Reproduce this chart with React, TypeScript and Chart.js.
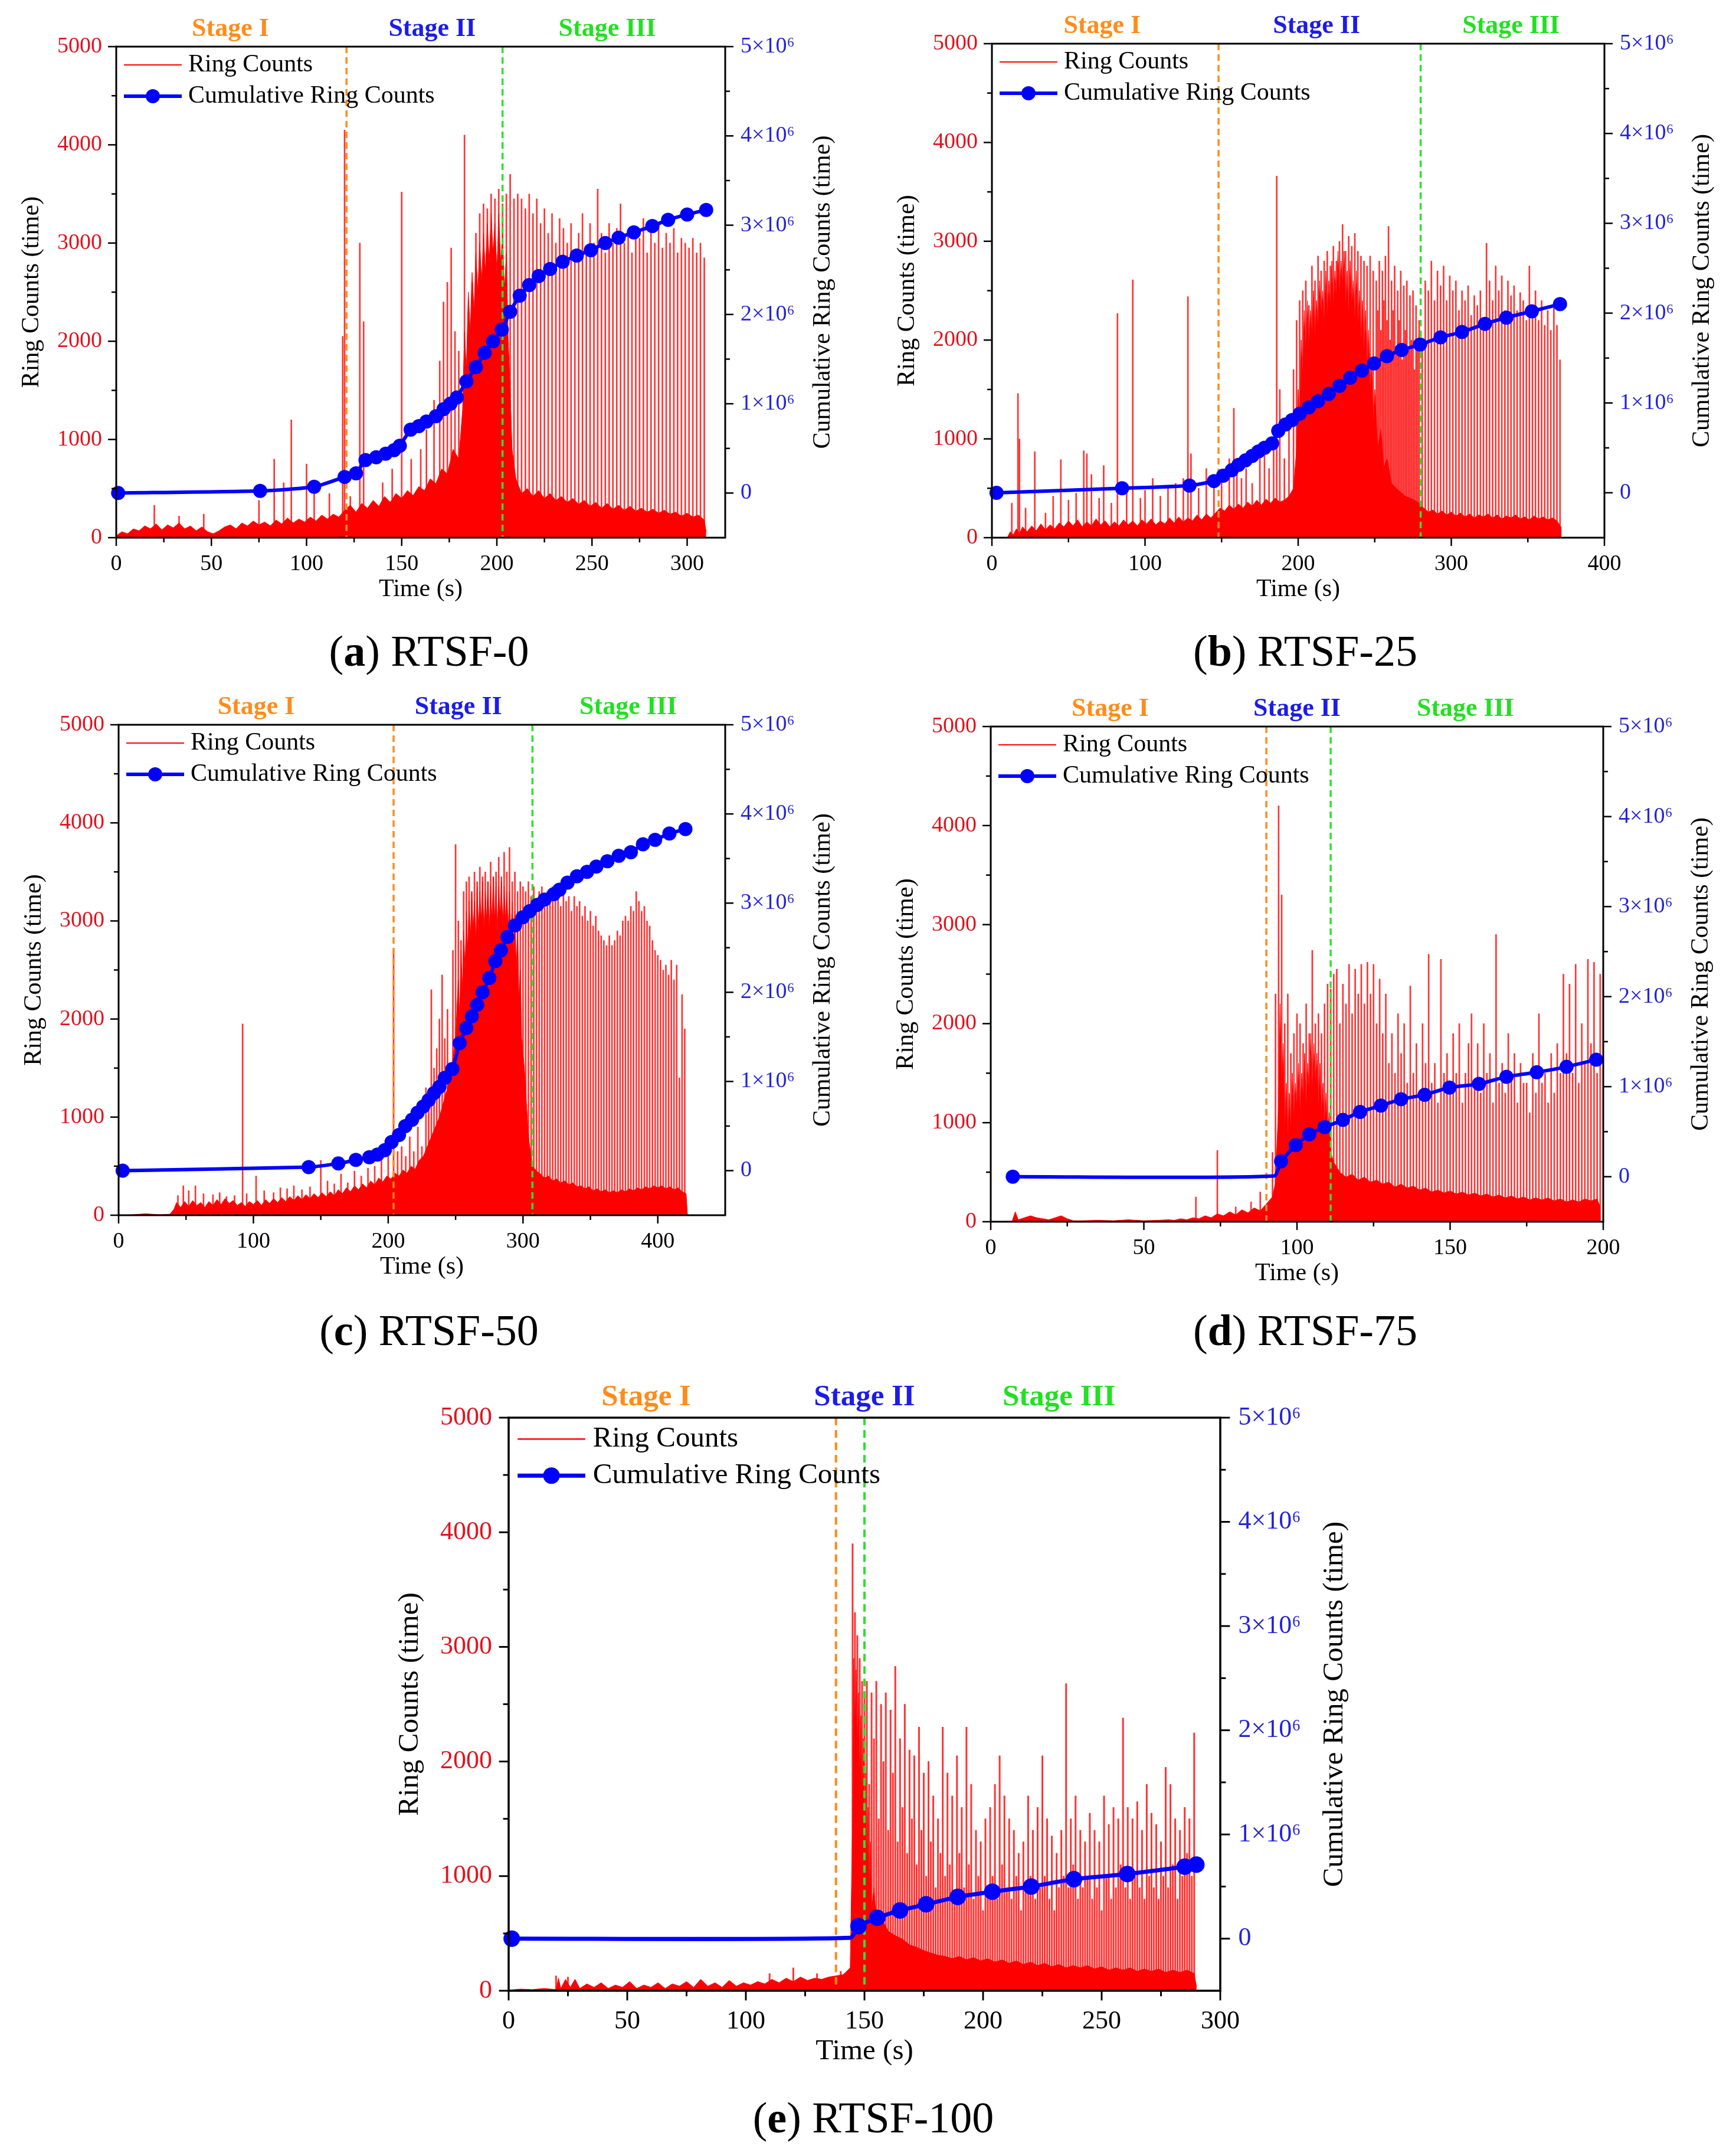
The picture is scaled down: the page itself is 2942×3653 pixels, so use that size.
import { useEffect, useRef } from "react"
import { Chart, registerables } from "chart.js"

Chart.register(...registerables)
Chart.defaults.font.family = "'Liberation Serif', 'Times New Roman', serif"

type Pt = [number, number]

// 共通の目盛り
const countTicks = [0, 1000, 2000, 3000, 4000, 5000]
const countMinor = [500, 1500, 2500, 3500, 4500]
const cumTicks = [0, 1e6, 2e6, 3e6, 4e6, 5e6]
const cumMinor = [5e5, 1.5e6, 2.5e6, 3.5e6, 4.5e6]
const stageNames = ["Stage I", "Stage II", "Stage III"]

// (a) RTSF-0
const baseA: Pt[] = [[0,20],[3,60],[6,40],[9,90],[12,70],[15,120],[18,90],[21,140],[24,80],[27,130],[30,100],[33,150],[36,90],[39,120],[42,70],[45,110],[48,60],[51,40],[54,70],[57,110],[60,130],[63,90],[66,150],[69,120],[72,170],[75,130],[78,160],[81,120],[84,180],[87,140],[90,200],[93,150],[96,190],[99,160],[102,210],[105,170],[108,230],[111,190],[114,240],[117,210],[120,280],[123,330],[126,260],[129,350],[132,300],[135,380],[138,320],[141,420],[144,360],[147,450],[150,400],[153,480],[156,430],[159,520],[162,480],[165,600],[168,550],[171,700],[174,650],[177,900],[180,800],[182,1300],[183,2100],[184,1700],[185,2500],[186,2100],[187,2700],[188,2300],[189,2900],[190,2500],[191,3000],[192,2600],[193,3100],[194,2700],[195,3200],[196,2800],[197,3300],[198,2900],[199,3200],[200,2700],[201,3300],[202,2800],[203,3100],[204,2500],[205,2900],[206,2000],[207,1500],[208,900],[210,600],[213,450],[216,500],[219,420],[222,480],[225,400],[228,450],[231,380],[234,420],[237,360],[240,400],[243,340],[246,380],[249,320],[252,360],[255,300],[258,350],[261,290],[264,330],[267,280],[270,320],[273,270],[276,300],[279,260],[282,290],[285,250],[288,280],[291,240],[294,260],[297,220],[300,250],[303,210],[306,230],[309,180],[310,60]]
const spikesA: Pt[] = [[20,330],[33,220],[46,240],[75,380],[83,800],[88,560],[92,1200],[100,750],[104,560],[112,450],[119,2050],[120,4150],[123,420],[128,3000],[130,2200],[140,560],[145,700],[150,3520],[155,800],[160,900],[163,1100],[167,1400],[170,1800],[172,2400],[174,2600],[176,2950],[178,2100],[180,1900],[183,4100],[185,2300],[187,2600],[189,3100],[191,3300],[193,3400],[195,3350],[197,3500],[199,3450],[201,3550],[203,3400],[205,3500],[207,3700],[209,3450],[211,3500],[213,3450],[215,3350],[217,3500],[219,3300],[221,3450],[223,3200],[225,3350],[227,3100],[229,3300],[231,3000],[233,3250],[235,3150],[237,3000],[239,3200],[241,2900],[243,3100],[245,3300],[247,2950],[249,3200],[251,3000],[253,3550],[255,3100],[257,2900],[259,3200],[261,3000],[263,3150],[265,3400],[267,3000],[269,3100],[271,2900],[273,3150],[275,3050],[277,3250],[279,2900],[281,3100],[283,3000],[285,3200],[287,2950],[289,3100],[291,3000],[293,3150],[295,2900],[297,3050],[299,3000],[301,2950],[303,3050],[305,2900],[307,3000],[309,2850]]
const cumA: Pt[] = [[1,0],[75.6,24000],[104,70000],[120,180000],[126,220000],[131,370000],[136.6,400000],[141.6,440000],[146,480000],[149,530000],[154.7,710000],[159,750000],[163,800000],[168,860000],[172,940000],[175.6,1000000],[179,1070000],[184,1250000],[189,1410000],[193.6,1570000],[198,1700000],[202.6,1830000],[207,2030000],[212,2210000],[217,2330000],[222,2430000],[228,2510000],[234.6,2590000],[242,2660000],[249.4,2720000],[257,2800000],[264,2860000],[272,2920000],[281.7,2990000],[290,3060000],[300,3120000],[310,3170000]]
const stagesA = [121, 203]
const stageLabelXA = [60, 166, 258]
const xTicksA = [0, 50, 100, 150, 200, 250, 300]
const xMinorA = [25, 75, 125, 175, 225, 275]

// (b) RTSF-25
const baseB: Pt[] = [[10,0],[12,60],[14,30],[16,90],[18,40],[20,110],[23,60],[26,120],[29,70],[32,140],[35,80],[38,130],[41,90],[44,150],[47,110],[50,170],[53,120],[56,180],[59,110],[62,160],[65,120],[68,190],[71,130],[74,170],[77,110],[80,160],[83,120],[86,180],[89,130],[92,170],[95,120],[98,180],[101,140],[104,190],[107,130],[110,170],[113,140],[116,200],[119,150],[122,210],[125,160],[128,200],[131,170],[134,230],[137,180],[140,240],[143,200],[146,250],[149,300],[152,270],[155,330],[158,290],[161,340],[164,300],[167,360],[170,320],[173,380],[176,330],[179,390],[182,350],[185,400],[188,360],[191,380],[194,420],[197,500],[199,900],[200,1500],[201,1100],[202,2000],[203,1600],[204,2300],[205,1800],[206,2400],[207,1900],[208,2300],[209,2000],[210,2500],[211,2000],[212,2400],[213,2100],[214,2600],[215,2200],[216,2500],[217,2100],[218,2700],[219,2200],[220,2600],[221,2300],[222,2800],[223,2300],[224,2700],[225,2400],[226,2900],[227,2400],[228,2800],[229,2500],[230,2900],[231,2300],[232,2700],[233,2200],[234,2800],[235,2300],[236,2600],[237,2100],[238,2700],[239,2100],[240,2500],[241,1900],[242,2400],[243,1800],[244,2300],[245,1600],[246,2100],[247,1400],[248,1800],[249,1100],[250,1500],[252,900],[254,1100],[256,700],[258,800],[261,550],[264,500],[267,460],[270,420],[273,400],[276,380],[279,350],[282,300],[285,260],[288,280],[291,240],[294,270],[297,230],[300,260],[303,220],[306,250],[309,210],[312,240],[315,200],[318,230],[321,210],[324,240],[327,200],[330,230],[333,190],[336,220],[339,200],[342,230],[345,190],[348,210],[351,180],[354,220],[357,190],[360,210],[363,180],[366,200],[369,170],[372,100]]
const spikesB: Pt[] = [[13,350],[17,1460],[18,1000],[22,300],[28,870],[35,250],[40,420],[45,790],[50,380],[55,450],[60,880],[62,850],[65,640],[70,400],[73,730],[78,350],[82,2270],[88,500],[92,2610],[97,400],[100,480],[105,600],[110,420],[115,500],[120,550],[125,600],[128,2440],[130,850],[135,500],[140,700],[145,600],[150,650],[155,800],[158,1310],[160,750],[163,600],[166,700],[170,550],[175,800],[178,900],[181,700],[184,1000],[186,3660],[188,1500],[191,800],[194,1200],[197,1700],[199,2200],[201,2400],[203,2500],[205,2600],[207,2350],[209,2750],[211,2600],[213,2850],[215,2700],[217,2800],[219,2900],[221,2750],[223,2950],[225,2800],[227,3000],[229,3170],[231,2900],[233,3050],[235,2950],[237,3080],[239,2900],[241,2850],[243,2800],[245,2750],[247,2850],[249,2700],[251,2600],[252,2300],[253,2800],[254,2100],[255,2700],[256,2400],[257,2850],[258,2200],[259,3150],[260,2000],[261,2600],[262,2300],[263,2750],[264,1900],[265,2500],[266,2200],[267,2700],[268,1800],[269,2550],[270,2100],[271,2600],[272,1900],[273,2450],[274,2000],[275,2500],[276,1700],[277,2350],[278,1900],[279,2200],[281,2000],[283,2600],[285,2500],[287,2800],[289,2400],[291,2700],[293,2550],[295,2750],[297,2400],[299,2650],[301,2500],[303,2600],[305,2300],[307,2500],[309,2400],[311,2550],[313,2250],[315,2450],[317,2350],[319,2500],[321,2200],[323,2980],[325,2600],[327,2400],[329,2750],[331,2500],[333,2650],[335,2300],[337,2600],[339,2450],[341,2550],[343,2300],[345,2480],[347,2400],[349,2200],[351,2750],[353,2350],[355,2500],[357,2200],[359,2400],[361,2150],[363,2300],[365,2100],[367,2350],[369,2150],[371,1800]]
const cumB: Pt[] = [[3,0],[85,50000],[129,80000],[145,130000],[151,190000],[156.6,250000],[161,310000],[165.6,360000],[170,410000],[174,460000],[178,500000],[183,550000],[187,690000],[191.7,760000],[196,810000],[201,880000],[207,950000],[213,1020000],[220,1100000],[227,1190000],[234,1280000],[241.6,1360000],[249.5,1440000],[258,1520000],[267.6,1590000],[279.6,1650000],[293,1730000],[307,1790000],[322,1880000],[336,1950000],[352.6,2020000],[371,2100000]]
const stagesB = [148, 280]
const stageLabelXB = [72, 212, 339]
const xTicksB = [0, 100, 200, 300, 400]
const xMinorB = [50, 150, 250, 350]

// (c) RTSF-50
const baseC: Pt[] = [[0,0],[10,5],[20,15],[30,5],[38,10],[41,60],[43,130],[46,80],[49,140],[52,90],[55,150],[58,100],[61,130],[64,80],[67,140],[70,100],[73,160],[76,110],[79,170],[82,120],[85,150],[88,100],[91,130],[94,90],[97,140],[100,110],[103,150],[106,100],[109,160],[112,120],[115,170],[118,130],[121,180],[124,140],[127,190],[130,150],[133,200],[136,160],[139,210],[142,170],[145,220],[148,180],[151,230],[154,190],[157,240],[160,200],[163,260],[166,220],[169,280],[172,240],[175,300],[178,260],[181,320],[184,280],[187,350],[190,310],[193,380],[196,340],[199,400],[202,370],[205,430],[208,400],[211,460],[214,430],[217,500],[220,470],[223,560],[226,600],[229,700],[232,800],[235,900],[238,1000],[241,1150],[244,1300],[247,1500],[250,1800],[252,2400],[253,2000],[254,2700],[255,2300],[256,2900],[257,2500],[258,3100],[259,2700],[260,3200],[261,2800],[262,3300],[263,2900],[264,3200],[265,2800],[266,3350],[267,2900],[268,3300],[269,3000],[270,3400],[271,2900],[272,3300],[273,3000],[274,3400],[275,2900],[276,3350],[277,3000],[278,3450],[279,3000],[280,3400],[281,2900],[282,3350],[283,3050],[284,3400],[285,2950],[286,3350],[287,3000],[288,3300],[289,2900],[290,3300],[291,2800],[292,3200],[293,2700],[294,3100],[295,2500],[296,2900],[297,2200],[298,2500],[299,1800],[301,1500],[304,800],[307,500],[310,450],[313,420],[316,380],[319,400],[322,350],[325,370],[328,330],[331,350],[334,310],[337,330],[340,290],[343,300],[346,270],[349,290],[352,250],[355,270],[358,240],[361,260],[364,230],[367,250],[370,230],[373,260],[376,240],[379,270],[382,250],[385,280],[388,260],[391,290],[394,270],[397,300],[400,280],[403,300],[406,270],[409,290],[412,260],[415,280],[418,240],[421,220],[422,0]]
const spikesC: Pt[] = [[44,200],[48,300],[52,250],[57,300],[63,220],[70,210],[75,230],[80,190],[86,200],[92,1950],[95,220],[102,400],[108,250],[115,230],[120,280],[125,270],[130,300],[136,260],[142,290],[150,560],[155,350],[160,320],[165,420],[170,330],[175,450],[180,400],[185,480],[190,500],[195,560],[200,600],[204,2700],[207,650],[210,700],[213,600],[216,800],[219,650],[222,900],[225,700],[228,1300],[230,1100],[232,2300],[234,1500],[236,1700],[238,2000],[240,2450],[242,1800],[244,2100],[246,1500],[248,2700],[250,3780],[252,3000],[254,2800],[256,3300],[258,3400],[260,3450],[262,3300],[264,3500],[266,3400],[268,3550],[270,3450],[272,3500],[274,3400],[276,3600],[278,3450],[280,3500],[282,3650],[284,3450],[286,3700],[288,3500],[290,3750],[292,3400],[294,3500],[296,3300],[298,3400],[300,3350],[302,3300],[304,3400],[306,3250],[308,3350],[310,3200],[312,3300],[314,3350],[316,3250],[318,3300],[320,3200],[322,3350],[324,3250],[326,3300],[328,3150],[330,3300],[332,3200],[334,3250],[336,3100],[338,3250],[340,3150],[342,3200],[344,3050],[346,3150],[348,3000],[350,3100],[352,2950],[354,3050],[356,2900],[358,2850],[360,2800],[362,2750],[364,2850],[366,2750],[368,2800],[370,2900],[372,2850],[374,3000],[376,3050],[378,3000],[380,3150],[382,3100],[384,3300],[386,3200],[388,3100],[390,3150],[392,3000],[394,2950],[396,2800],[398,2700],[400,2650],[402,2600],[404,2500],[406,2550],[408,2450],[410,2600],[412,2400],[414,2550],[416,1400],[418,2250],[420,1900]]
const cumC: Pt[] = [[3,0],[141,40000],[163,80000],[176,120000],[186,150000],[192,180000],[197.5,230000],[202.5,320000],[208,400000],[212.7,500000],[217.7,570000],[221.8,650000],[226,720000],[230,790000],[234,870000],[238,940000],[242,1040000],[247.6,1140000],[253,1430000],[258,1600000],[262,1730000],[266,1860000],[270,2000000],[275,2160000],[279.5,2350000],[283.6,2470000],[288.5,2620000],[294,2750000],[299.8,2840000],[305,2910000],[310.5,2980000],[316,3040000],[322.8,3100000],[327,3150000],[333,3230000],[340,3300000],[347.5,3350000],[354.4,3410000],[362.6,3470000],[371,3530000],[380,3570000],[389,3660000],[398,3710000],[408.6,3780000],[420.5,3830000]]
const stagesC = [204, 307]
const stageLabelXC = [102, 252, 378]
const xTicksC = [0, 100, 200, 300, 400]
const xMinorC = [50, 150, 250, 350]

// (d) RTSF-75
const baseD: Pt[] = [[0,0],[7,5],[8,100],[9,20],[11,40],[13,60],[15,40],[17,30],[19,20],[21,40],[23,60],[25,30],[27,10],[30,10],[35,15],[40,10],[45,20],[50,10],[55,15],[58,20],[60,15],[62,30],[64,20],[66,40],[68,30],[70,60],[72,40],[74,80],[76,60],[78,100],[80,70],[82,120],[84,90],[86,140],[88,110],[90,180],[92,250],[93,400],[94,1200],[94.5,2200],[95,1300],[95.5,1800],[96,900],[96.5,1400],[97,800],[97.5,1300],[98,900],[98.5,1500],[99,1000],[99.5,1400],[100,1100],[100.5,1600],[101,1000],[101.5,1500],[102,1200],[102.5,1700],[103,1100],[103.5,1600],[104,1300],[104.5,1900],[105,1200],[105.5,1800],[106,1300],[106.5,1700],[107,1100],[107.5,1600],[108,1000],[108.5,1400],[109,900],[109.5,1300],[110,800],[110.5,1100],[111,700],[112,600],[113,550],[114,500],[116,450],[118,480],[120,420],[122,450],[124,400],[126,420],[128,380],[130,400],[132,350],[134,380],[136,340],[138,360],[140,320],[142,340],[144,300],[146,320],[148,290],[150,310],[152,280],[154,300],[156,270],[158,290],[160,260],[162,280],[164,250],[166,270],[168,240],[170,260],[172,230],[174,250],[176,220],[178,240],[180,220],[182,240],[184,210],[186,230],[188,200],[190,220],[192,200],[194,230],[196,210],[198,230],[199,150]]
const spikesD: Pt[] = [[67,250],[74,720],[80,150],[85,200],[88,300],[92,700],[93,2300],[94,4200],[95,3300],[96,2000],[97,2300],[98,1700],[99,1900],[100,2100],[101,2000],[102,1800],[103,2200],[104,1900],[105,2740],[106,2000],[107,2100],[108,1900],[109,2200],[110,2400],[111,2350],[112,2500],[113,2550],[114,2000],[115,2400],[116,2200],[117,2600],[118,2100],[119,2550],[120,2300],[121,2600],[122,2200],[123,2620],[124,2300],[125,2600],[126,2000],[127,2450],[128,1900],[129,2300],[130,1600],[131,1900],[132,1500],[133,2100],[134,1700],[135,2000],[136,1400],[137,2380],[138,1500],[139,1800],[140,1300],[141,2000],[142,1600],[143,2700],[144,1400],[145,1600],[146,1200],[147,2650],[148,1500],[149,1700],[150,1300],[151,1900],[152,1500],[153,2000],[154,1200],[155,1500],[156,1800],[157,2100],[158,1400],[159,1800],[160,1300],[161,2000],[162,1500],[163,1700],[164,1200],[165,2900],[166,1400],[167,1600],[168,1300],[169,1900],[170,1500],[171,1700],[172,1200],[173,1600],[174,1400],[175,1400],[176,1100],[177,1700],[178,1300],[179,2100],[180,1400],[181,1500],[182,1200],[183,1700],[184,1300],[185,1800],[186,1500],[187,2500],[188,1700],[189,2400],[190,1500],[191,2600],[192,1400],[193,2000],[194,1600],[195,2650],[196,1800],[197,2620],[198,1500],[199,2500]]
const cumD: Pt[] = [[7.2,0],[94.8,170000],[99.6,350000],[104,470000],[109,550000],[115,630000],[120.6,720000],[127.4,790000],[134,860000],[141.7,910000],[149.8,990000],[159.4,1030000],[168.4,1110000],[178.3,1160000],[188,1220000],[197.7,1300000]]
const kneeD: Pt[] = [[92.5, 8000]]
const stagesD = [90, 111]
const stageLabelXD = [39, 100, 155]
const xTicksD = [0, 50, 100, 150, 200]
const xMinorD = [25, 75, 125, 175]

// (e) RTSF-100
const baseE: Pt[] = [[0,5],[5,15],[10,10],[15,20],[20,10],[21,110],[22,20],[24,100],[26,30],[28,100],[30,20],[33,60],[36,30],[39,70],[42,20],[45,50],[48,30],[51,80],[54,20],[57,50],[60,30],[63,70],[66,20],[69,60],[72,40],[75,80],[78,30],[81,100],[84,40],[87,70],[90,30],[93,90],[96,40],[99,70],[102,50],[105,80],[108,60],[111,100],[114,70],[117,110],[120,80],[123,120],[126,90],[129,110],[132,100],[135,120],[138,130],[141,140],[144,200],[145,1500],[145.5,2900],[146,2200],[146.5,2800],[147,2000],[147.5,2600],[148,1700],[148.5,2400],[149,1500],[149.5,2200],[150,1300],[150.5,1900],[151,1000],[151.5,1600],[152,800],[152.5,1300],[153,700],[154,900],[155,600],[156,700],[158,600],[160,520],[163,480],[166,450],[169,400],[172,380],[175,350],[178,330],[181,310],[184,300],[187,280],[190,300],[193,270],[196,290],[199,260],[202,280],[205,250],[208,270],[211,240],[214,260],[217,230],[220,250],[223,220],[226,240],[229,210],[232,230],[235,200],[238,220],[241,200],[244,220],[247,190],[250,210],[253,180],[256,200],[259,180],[262,200],[265,170],[268,190],[271,170],[274,190],[277,160],[280,180],[283,160],[286,180],[289,150],[290,30]]
const spikesE: Pt[] = [[20,130],[25,120],[110,150],[120,200],[130,150],[140,170],[145,3900],[146,3300],[147,3100],[148,2900],[149,2700],[150,2600],[151,2700],[152,1800],[153,2600],[154,2200],[155,2700],[156,1500],[157,2500],[158,2000],[159,2600],[160,1400],[161,2450],[162,1900],[163,2830],[164,1300],[165,2200],[166,1600],[167,2500],[168,1200],[169,2100],[170,1500],[171,2050],[172,1100],[173,2300],[174,1400],[175,1900],[176,1000],[177,2000],[178,1300],[179,1700],[180,900],[181,1500],[182,1200],[183,2300],[184,1000],[185,1900],[186,1100],[187,1700],[188,800],[189,2050],[190,1200],[191,1600],[192,900],[193,2300],[194,1100],[195,1800],[196,800],[197,1400],[198,1000],[199,1300],[200,700],[201,1500],[202,900],[203,1600],[204,1000],[205,1800],[206,800],[207,2050],[208,1100],[209,1700],[210,900],[211,1500],[212,800],[213,1400],[214,1000],[215,1200],[216,700],[217,1300],[218,900],[219,1700],[220,1000],[221,1400],[222,800],[223,1600],[224,900],[225,2050],[226,1000],[227,1500],[228,800],[229,1350],[230,700],[231,1200],[232,900],[233,1400],[234,1000],[235,2680],[236,900],[237,1500],[238,1100],[239,1700],[240,800],[241,1400],[242,900],[243,1300],[244,1000],[245,1550],[246,800],[247,1400],[248,900],[249,1300],[250,700],[251,1700],[252,1000],[253,1450],[254,800],[255,1600],[256,900],[257,1500],[258,1100],[259,2380],[260,900],[261,1600],[262,800],[263,1500],[264,1000],[265,1650],[266,900],[267,1400],[268,800],[269,1800],[270,1000],[271,1550],[272,900],[273,1450],[274,800],[275,1300],[276,1000],[277,1950],[278,900],[279,1800],[280,1100],[281,1500],[282,800],[283,1400],[284,1000],[285,1600],[286,1200],[287,1500],[288,1000],[289,2250]]
const cumE: Pt[] = [[1.3,0],[147.5,120000],[155.4,200000],[165,270000],[176,330000],[189.3,400000],[203.9,450000],[220.3,500000],[238.3,570000],[260.8,620000],[285,690000],[289.9,710000]]
const kneeE: Pt[] = [[144, 8000]]
const stagesE = [138, 150]
const stageLabelXE = [58, 150, 232]
const xTicksE = [0, 50, 100, 150, 200, 250, 300]
const xMinorE = [25, 75, 125, 175, 225, 275]

const RED = "#ff0000"
const BLUE = "#0000ff"
const ORANGE = "#ff8c1a"
const GREEN = "#2ee02e"
const stageColors = [ORANGE, "#1c1ce8", "#22e022"]

interface PanelDef {
  letter: string
  name: string
  base: Pt[]
  spikes: Pt[]
  cum: Pt[]
  knee: Pt[]
  stages: number[]
  stageLabelX: number[]
  xMax: number
  xTicks: number[]
  xMinor: number[]
  L: number
  T: number
  R: number
  B: number
  capX: number
  capY: number
  k: number
}

function Panel(p: PanelDef) {
  const canvasRef = useRef<HTMLCanvasElement>(null)
  const k = p.k
  const M = { l: Math.round(180 * k), r: Math.round(220 * k), t: Math.round(80 * k), b: Math.round(130 * k) }
  const W = p.R - p.L + M.l + M.r
  const H = p.B - p.T + M.t + M.b

  useEffect(() => {
    if (!canvasRef.current) return
    const ctx = canvasRef.current.getContext("2d")
    if (!ctx) return

    const tickFont = { size: Math.round(38 * k) }
    const titleFont = `${Math.round(42 * k)}px 'Liberation Serif', serif`

    // 目盛り・枠・凡例などの描画
    const decor = {
      id: "decor",
      afterDatasetDraw(chart: Chart, args: { index: number }) {
        if (args.index !== 1) return
        const { ctx: c, chartArea: a } = chart
        const x = chart.scales.x
        c.save()
        c.lineWidth = 3.5 * k
        c.setLineDash([11 * k, 7 * k])
        p.stages.forEach((s, i) => {
          const px = x.getPixelForValue(s)
          c.strokeStyle = i === 0 ? ORANGE : GREEN
          c.beginPath()
          c.moveTo(px, a.top)
          c.lineTo(px, a.bottom)
          c.stroke()
        })
        c.restore()
      },
      afterDraw(chart: Chart) {
        const { ctx: c, chartArea: a } = chart
        const x = chart.scales.x
        const y = chart.scales.y
        const y1 = chart.scales.y1
        c.save()
        c.strokeStyle = "#000"
        c.lineWidth = 3 * k
        c.strokeRect(a.left, a.top, a.right - a.left, a.bottom - a.top)

        const seg = (x0: number, y0: number, x1: number, y1_: number) => {
          c.beginPath()
          c.moveTo(x0, y0)
          c.lineTo(x1, y1_)
          c.stroke()
        }
        const maj = 14 * k
        const min = 8 * k
        c.lineWidth = 2.5 * k
        p.xTicks.forEach(v => { const px = x.getPixelForValue(v); seg(px, a.bottom, px, a.bottom + maj) })
        p.xMinor.forEach(v => { const px = x.getPixelForValue(v); seg(px, a.bottom, px, a.bottom + min) })
        countTicks.forEach(v => { const py = y.getPixelForValue(v); seg(a.left, py, a.left - maj, py) })
        countMinor.forEach(v => { const py = y.getPixelForValue(v); seg(a.left, py, a.left - min, py) })
        cumTicks.forEach(v => { const py = y1.getPixelForValue(v); seg(a.right, py, a.right + maj, py) })
        cumMinor.forEach(v => { const py = y1.getPixelForValue(v); seg(a.right, py, a.right + min, py) })

        // 軸タイトル
        c.fillStyle = "#000"
        c.font = titleFont
        c.textAlign = "center"
        c.textBaseline = "middle"
        const midY = (a.top + a.bottom) / 2
        c.save()
        c.translate(a.left - 143 * k, midY)
        c.rotate(-Math.PI / 2)
        c.fillText("Ring Counts (time)", 0, 0)
        c.restore()
        c.save()
        c.translate(a.right + 166 * k, midY)
        c.rotate(-Math.PI / 2)
        c.fillText("Cumulative Ring Counts (time)", 0, 0)
        c.restore()
        c.fillText("Time (s)", (a.left + a.right) / 2, a.bottom + 88 * k)

        // ステージ名
        c.font = `bold ${Math.round(44 * k)}px 'Liberation Serif', serif`
        stageNames.forEach((s, i) => {
          c.fillStyle = stageColors[i]
          c.fillText(s, x.getPixelForValue(p.stageLabelX[i]), a.top - 29 * k)
        })

        // 凡例
        const lx0 = a.left + 13 * k
        const lx1 = a.left + 111 * k
        const r1 = a.top + 31 * k
        const r2 = a.top + 84 * k
        c.strokeStyle = RED
        c.lineWidth = 2 * k
        seg(lx0, r1, lx1, r1)
        c.strokeStyle = BLUE
        c.lineWidth = 6 * k
        seg(lx0, r2, lx1, r2)
        c.fillStyle = BLUE
        c.beginPath()
        c.arc((lx0 + lx1) / 2, r2, 12 * k, 0, Math.PI * 2)
        c.fill()
        c.fillStyle = "#000"
        c.font = titleFont
        c.textAlign = "left"
        c.fillText("Ring Counts", a.left + 122 * k, r1)
        c.fillText("Cumulative Ring Counts", a.left + 122 * k, r2)
        c.restore()
      },
    }

    const cumData = [
      ...p.cum.map(([x, y]) => ({ x, y, mark: true })),
      ...p.knee.map(([x, y]) => ({ x, y, mark: false })),
    ].sort((a, b) => a.x - b.x)

    const chart = new Chart(ctx, {
      type: "line",
      data: {
        datasets: [
          {
            type: "line",
            label: "base",
            data: p.base.map(([x, y]) => ({ x, y })),
            borderColor: RED,
            backgroundColor: RED,
            borderWidth: 1,
            pointRadius: 0,
            fill: "origin",
            tension: 0,
            yAxisID: "y",
            order: 2,
          },
          {
            type: "bar",
            label: "Ring Counts",
            data: p.spikes.map(([x, y]) => ({ x, y })),
            backgroundColor: "rgba(255,0,0,0.8)",
            borderWidth: 0,
            barThickness: 2 * k,
            grouped: false,
            yAxisID: "y",
            order: 1,
          },
          {
            type: "line",
            label: "Cumulative Ring Counts",
            data: cumData,
            borderColor: BLUE,
            backgroundColor: BLUE,
            borderWidth: 6 * k,
            pointRadius: (c: any) => (c.raw && c.raw.mark ? 12 * k : 0),
            pointBorderWidth: 0,
            pointBackgroundColor: BLUE,
            tension: 0.2,
            clip: false,
            yAxisID: "y1",
            order: 0,
          },
        ] as any,
      },
      options: {
        animation: false,
        responsive: false,
        devicePixelRatio: 1,
        events: [],
        layout: { padding: { top: M.t, left: 0, right: 0, bottom: 0 } },
        plugins: { legend: { display: false }, tooltip: { enabled: false } },
        scales: {
          x: {
            type: "linear",
            min: 0,
            max: p.xMax,
            offset: false,
            grid: { display: false, drawTicks: false },
            border: { display: false },
            ticks: { color: "#000", font: tickFont, padding: 22 * k, maxRotation: 0, autoSkip: false, callback: (v: any) => String(v) },
            afterBuildTicks: (s: any) => { s.ticks = p.xTicks.map(v => ({ value: v })) },
            afterFit: (s: any) => { s.height = M.b },
          },
          y: {
            type: "linear",
            position: "left",
            min: 0,
            max: 5000,
            grid: { display: false, drawTicks: false },
            border: { display: false },
            ticks: { color: "#e0141e", font: tickFont, padding: 24 * k, callback: (v: any) => String(v) },
            afterBuildTicks: (s: any) => { s.ticks = countTicks.map(v => ({ value: v })) },
            afterFit: (s: any) => { s.width = M.l },
          },
          y1: {
            type: "linear",
            position: "right",
            min: -5e5,
            max: 5e6,
            grid: { display: false, drawTicks: false },
            border: { display: false },
            ticks: {
              color: "#2424d8",
              font: tickFont,
              padding: 26 * k,
              callback: (v: any) => (v === 0 ? "0" : `${Math.round(v / 1e6)}×10⁶`),
            },
            afterBuildTicks: (s: any) => { s.ticks = cumTicks.map(v => ({ value: v })) },
            afterFit: (s: any) => { s.width = M.r },
          },
        },
      } as any,
      plugins: [decor as any],
    })

    return () => {
      chart.destroy()
    }
  }, [])

  return (
    <>
      <canvas
        ref={canvasRef}
        width={W}
        height={H}
        style={{ position: "absolute", left: p.L - M.l - 8, top: p.T - M.t - 8, width: W, height: H }}
      />
      <div
        style={{
          position: "absolute",
          left: p.capX - 8,
          top: p.capY - 8,
          transform: "translate(-50%, -50%)",
          fontFamily: "'Liberation Serif', serif",
          fontSize: 74,
          whiteSpace: "nowrap",
          lineHeight: 1,
        }}
      >
        (<b>{p.letter}</b>) {p.name}
      </div>
    </>
  )
}

export default function App() {
  return (
    <div style={{ position: "relative", width: 2926, height: 3637, background: "#fff" }}>
      <Panel letter="a" name="RTSF-0" base={baseA} spikes={spikesA} cum={cumA} knee={[]} stages={stagesA} stageLabelX={stageLabelXA} xMax={320} xTicks={xTicksA} xMinor={xMinorA} L={197} T={79} R={1229} B={911} capX={727} capY={1103} k={1} />
      <Panel letter="b" name="RTSF-25" base={baseB} spikes={spikesB} cum={cumB} knee={[]} stages={stagesB} stageLabelX={stageLabelXB} xMax={400} xTicks={xTicksB} xMinor={xMinorB} L={1681} T={74} R={2719} B={911} capX={2212} capY={1103} k={1} />
      <Panel letter="c" name="RTSF-50" base={baseC} spikes={spikesC} cum={cumC} knee={[]} stages={stagesC} stageLabelX={stageLabelXC} xMax={450} xTicks={xTicksC} xMinor={xMinorC} L={201} T={1228} R={1229} B={2059} capX={727} capY={2254} k={1} />
      <Panel letter="d" name="RTSF-75" base={baseD} spikes={spikesD} cum={cumD} knee={kneeD} stages={stagesD} stageLabelX={stageLabelXD} xMax={200} xTicks={xTicksD} xMinor={xMinorD} L={1679} T={1231} R={2717} B={2070} capX={2212} capY={2254} k={1} />
      <Panel letter="e" name="RTSF-100" base={baseE} spikes={spikesE} cum={cumE} knee={kneeE} stages={stagesE} stageLabelX={stageLabelXE} xMax={300} xTicks={xTicksE} xMinor={xMinorE} L={862} T={2402} R={2068} B={3373} capX={1480} capY={3588} k={1.17} />
    </div>
  )
}
